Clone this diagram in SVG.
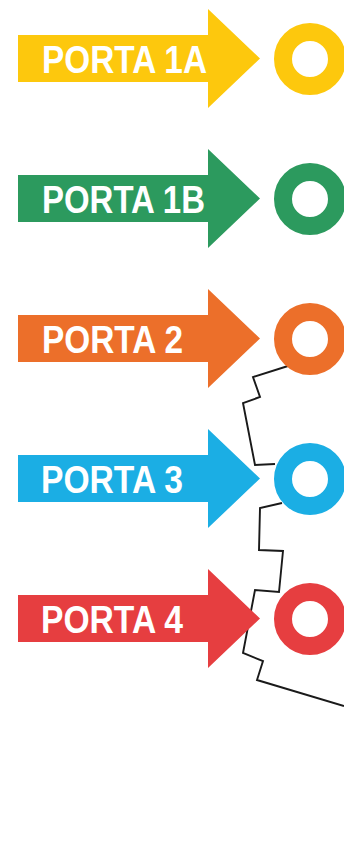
<svg xmlns="http://www.w3.org/2000/svg" width="344" height="850" viewBox="0 0 344 850">
<defs>
<style>
.lbl{font-family:"Liberation Sans",Arial,sans-serif;font-weight:bold;font-size:39px;fill:#ffffff}
.ring{fill:none;stroke-width:18}
.conn{fill:none;stroke:#1a1a1a;stroke-width:1.9;stroke-linejoin:miter}
</style>
<path id="arrow" d="M18 35 H208 V9 L260 58.5 L208 108 V82 H18 Z"/>
</defs>
<rect width="344" height="850" fill="#ffffff"/>
<g id="connectors">
<polyline class="conn" points="288,366 253,377 260,397 243,403 255,465 275,464"/>
<polyline class="conn" points="282,503 260,508 259,550 283,551 279,592 255,590 243,653 263,661 257,680 344,706"/>
</g>
<g id="porta1a">
<use href="#arrow" fill="#FDC80D"/>
<circle class="ring" cx="310" cy="59" r="27" stroke="#FDC80D"/>
<text class="lbl" x="42" y="73" textLength="165" lengthAdjust="spacingAndGlyphs">PORTA 1A</text>
</g>
<g id="porta1b" transform="translate(0,140)">
<use href="#arrow" fill="#2C9A5E"/>
<circle class="ring" cx="310" cy="59" r="27" stroke="#2C9A5E"/>
<text class="lbl" x="42" y="73" textLength="163" lengthAdjust="spacingAndGlyphs">PORTA 1B</text>
</g>
<g id="porta2" transform="translate(0,280)">
<use href="#arrow" fill="#EC6F2A"/>
<circle class="ring" cx="310" cy="59" r="27" stroke="#EC6F2A"/>
<text class="lbl" x="42" y="73" textLength="141" lengthAdjust="spacingAndGlyphs">PORTA 2</text>
</g>
<g id="porta3" transform="translate(0,420)">
<use href="#arrow" fill="#1BAEE4"/>
<circle class="ring" cx="310" cy="59" r="27" stroke="#1BAEE4"/>
<text class="lbl" x="41" y="73" textLength="142" lengthAdjust="spacingAndGlyphs">PORTA 3</text>
</g>
<g id="porta4" transform="translate(0,560)">
<use href="#arrow" fill="#E63E40"/>
<circle class="ring" cx="310" cy="59" r="27" stroke="#E63E40"/>
<text class="lbl" x="41" y="73" textLength="142" lengthAdjust="spacingAndGlyphs">PORTA 4</text>
</g>
</svg>
